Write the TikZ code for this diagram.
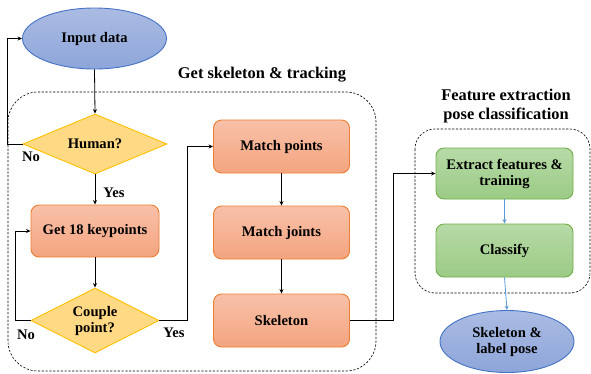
\documentclass[tikz,border=0pt]{standalone}
\usepackage{fontspec}
\setmainfont{Liberation Serif}
\newfontfamily\tnr{Liberation Serif}[BoldFont={Liberation Serif Bold}]
\usetikzlibrary{shapes.geometric,arrows.meta}
\definecolor{ellD}{HTML}{4472C4}
\definecolor{ellT}{HTML}{ABBCE3}
\definecolor{ellBo}{HTML}{8DA5D9}
\definecolor{orD}{HTML}{ED7D31}
\definecolor{orT}{HTML}{F8C1A9}
\definecolor{orBo}{HTML}{F4A47F}
\definecolor{dmD}{HTML}{FFC000}
\definecolor{dmF}{HTML}{FFD983}
\definecolor{grD}{HTML}{70AD47}
\definecolor{grT}{HTML}{B7DAA7}
\definecolor{grBo}{HTML}{9BCB85}
\definecolor{arB}{HTML}{5B9BD5}
\begin{document}
\begin{tikzpicture}[x=1pt,y=-1pt,
  font=\tnr\fontsize{14.6}{16}\selectfont\bfseries,
  ell/.style={ellipse, draw=ellD, line width=0.9pt, top color=ellT, bottom color=ellBo, inner sep=0pt, align=center},
  proc/.style={rectangle, rounded corners=8pt, draw=orD, line width=0.9pt, top color=orT, bottom color=orBo, inner sep=0pt, align=center},
  gproc/.style={rectangle, rounded corners=8pt, draw=grD, line width=0.9pt, top color=grT, bottom color=grBo, inner sep=0pt, align=center},
  dec/.style={diamond, draw=dmD, line width=0.9pt, fill=dmF, inner sep=0pt, aspect=2.2, align=center},
  arr/.style={draw=black, line width=0.8pt, -{Stealth[length=4.5pt,width=4pt]}},
  barr/.style={draw=arB, line width=0.8pt, -{Stealth[length=4.5pt,width=4pt]}},
  dbox/.style={draw=black, line width=0.6pt, dash pattern=on 2.2pt off 1.6pt},
  lbl/.style={inner sep=0pt},
  ttl/.style={inner sep=0pt, align=center, font=\tnr\fontsize{16.4}{19}\selectfont\bfseries}]
\useasboundingbox (0,0) rectangle (591,373);
% dashed groups
\draw[dbox, rounded corners=30pt] (8,92) rectangle (376,371);
\draw[dbox, rounded corners=20pt] (415,129) rectangle (590,293);
% titles
\node[ttl] (t1) at (262,75) {Get skeleton \& tracking};
\node[ttl] (t2) at (506,106.5) {Feature extraction\\pose classification};
% nodes
\node[ell, minimum width=144pt, minimum height=61pt] (input) at (94.5,38.5) {Input data};
\node[dec, minimum width=144pt, minimum height=60pt] (human) at (95,144) {Human?};
\node[proc, minimum width=128pt, minimum height=52pt] (kp) at (95,231) {Get 18 keypoints};
\node[dec, minimum width=128pt, minimum height=65pt] (couple) at (95,320.5) {Couple\\point?};
\node[proc, minimum width=136pt, minimum height=53pt] (mp) at (281.5,146.5) {Match points};
\node[proc, minimum width=136pt, minimum height=53pt] (mj) at (281.5,232.5) {Match joints};
\node[proc, minimum width=136pt, minimum height=53pt] (sk) at (281.5,320.5) {Skeleton};
\node[gproc, minimum width=137pt, minimum height=51pt] (ext) at (504.5,173.5) {Extract features \&\\training};
\node[gproc, minimum width=137pt, minimum height=53pt] (cls) at (504.5,250.5) {Classify};
\node[ell, minimum width=134pt, minimum height=62pt] (out) at (507,341.5) {Skeleton \&\\label pose};
% labels
\node[lbl] (no1) at (31,157) {No};
\node[lbl] (yes1) at (114,193) {Yes};
\node[lbl] (no2) at (26,335) {No};
\node[lbl] (yes2) at (174,333) {Yes};
% connectors
\draw[arr] (input.south) -- (human.north);
\draw[arr] (human.west) -- ++(-15,0) |- (input.west);
\draw[arr] (human.south) -- (kp.north);
\draw[arr] (kp.south) -- (couple.north);
\draw[arr] (couple.west) -- ++(-15,0) |- (kp.west);
\draw[arr] (couple.east) -- ++(27.5,0) |- (mp.west);
\draw[arr] (mp.south) -- (mj.north);
\draw[arr] (mj.south) -- (sk.north);
\draw[arr] (sk.east) -- ++(43,0) |- (ext.west);
\draw[barr] (ext.south) -- (cls.north);
\draw[barr] (cls.south) -- (out.north);
\end{tikzpicture}
\end{document}
